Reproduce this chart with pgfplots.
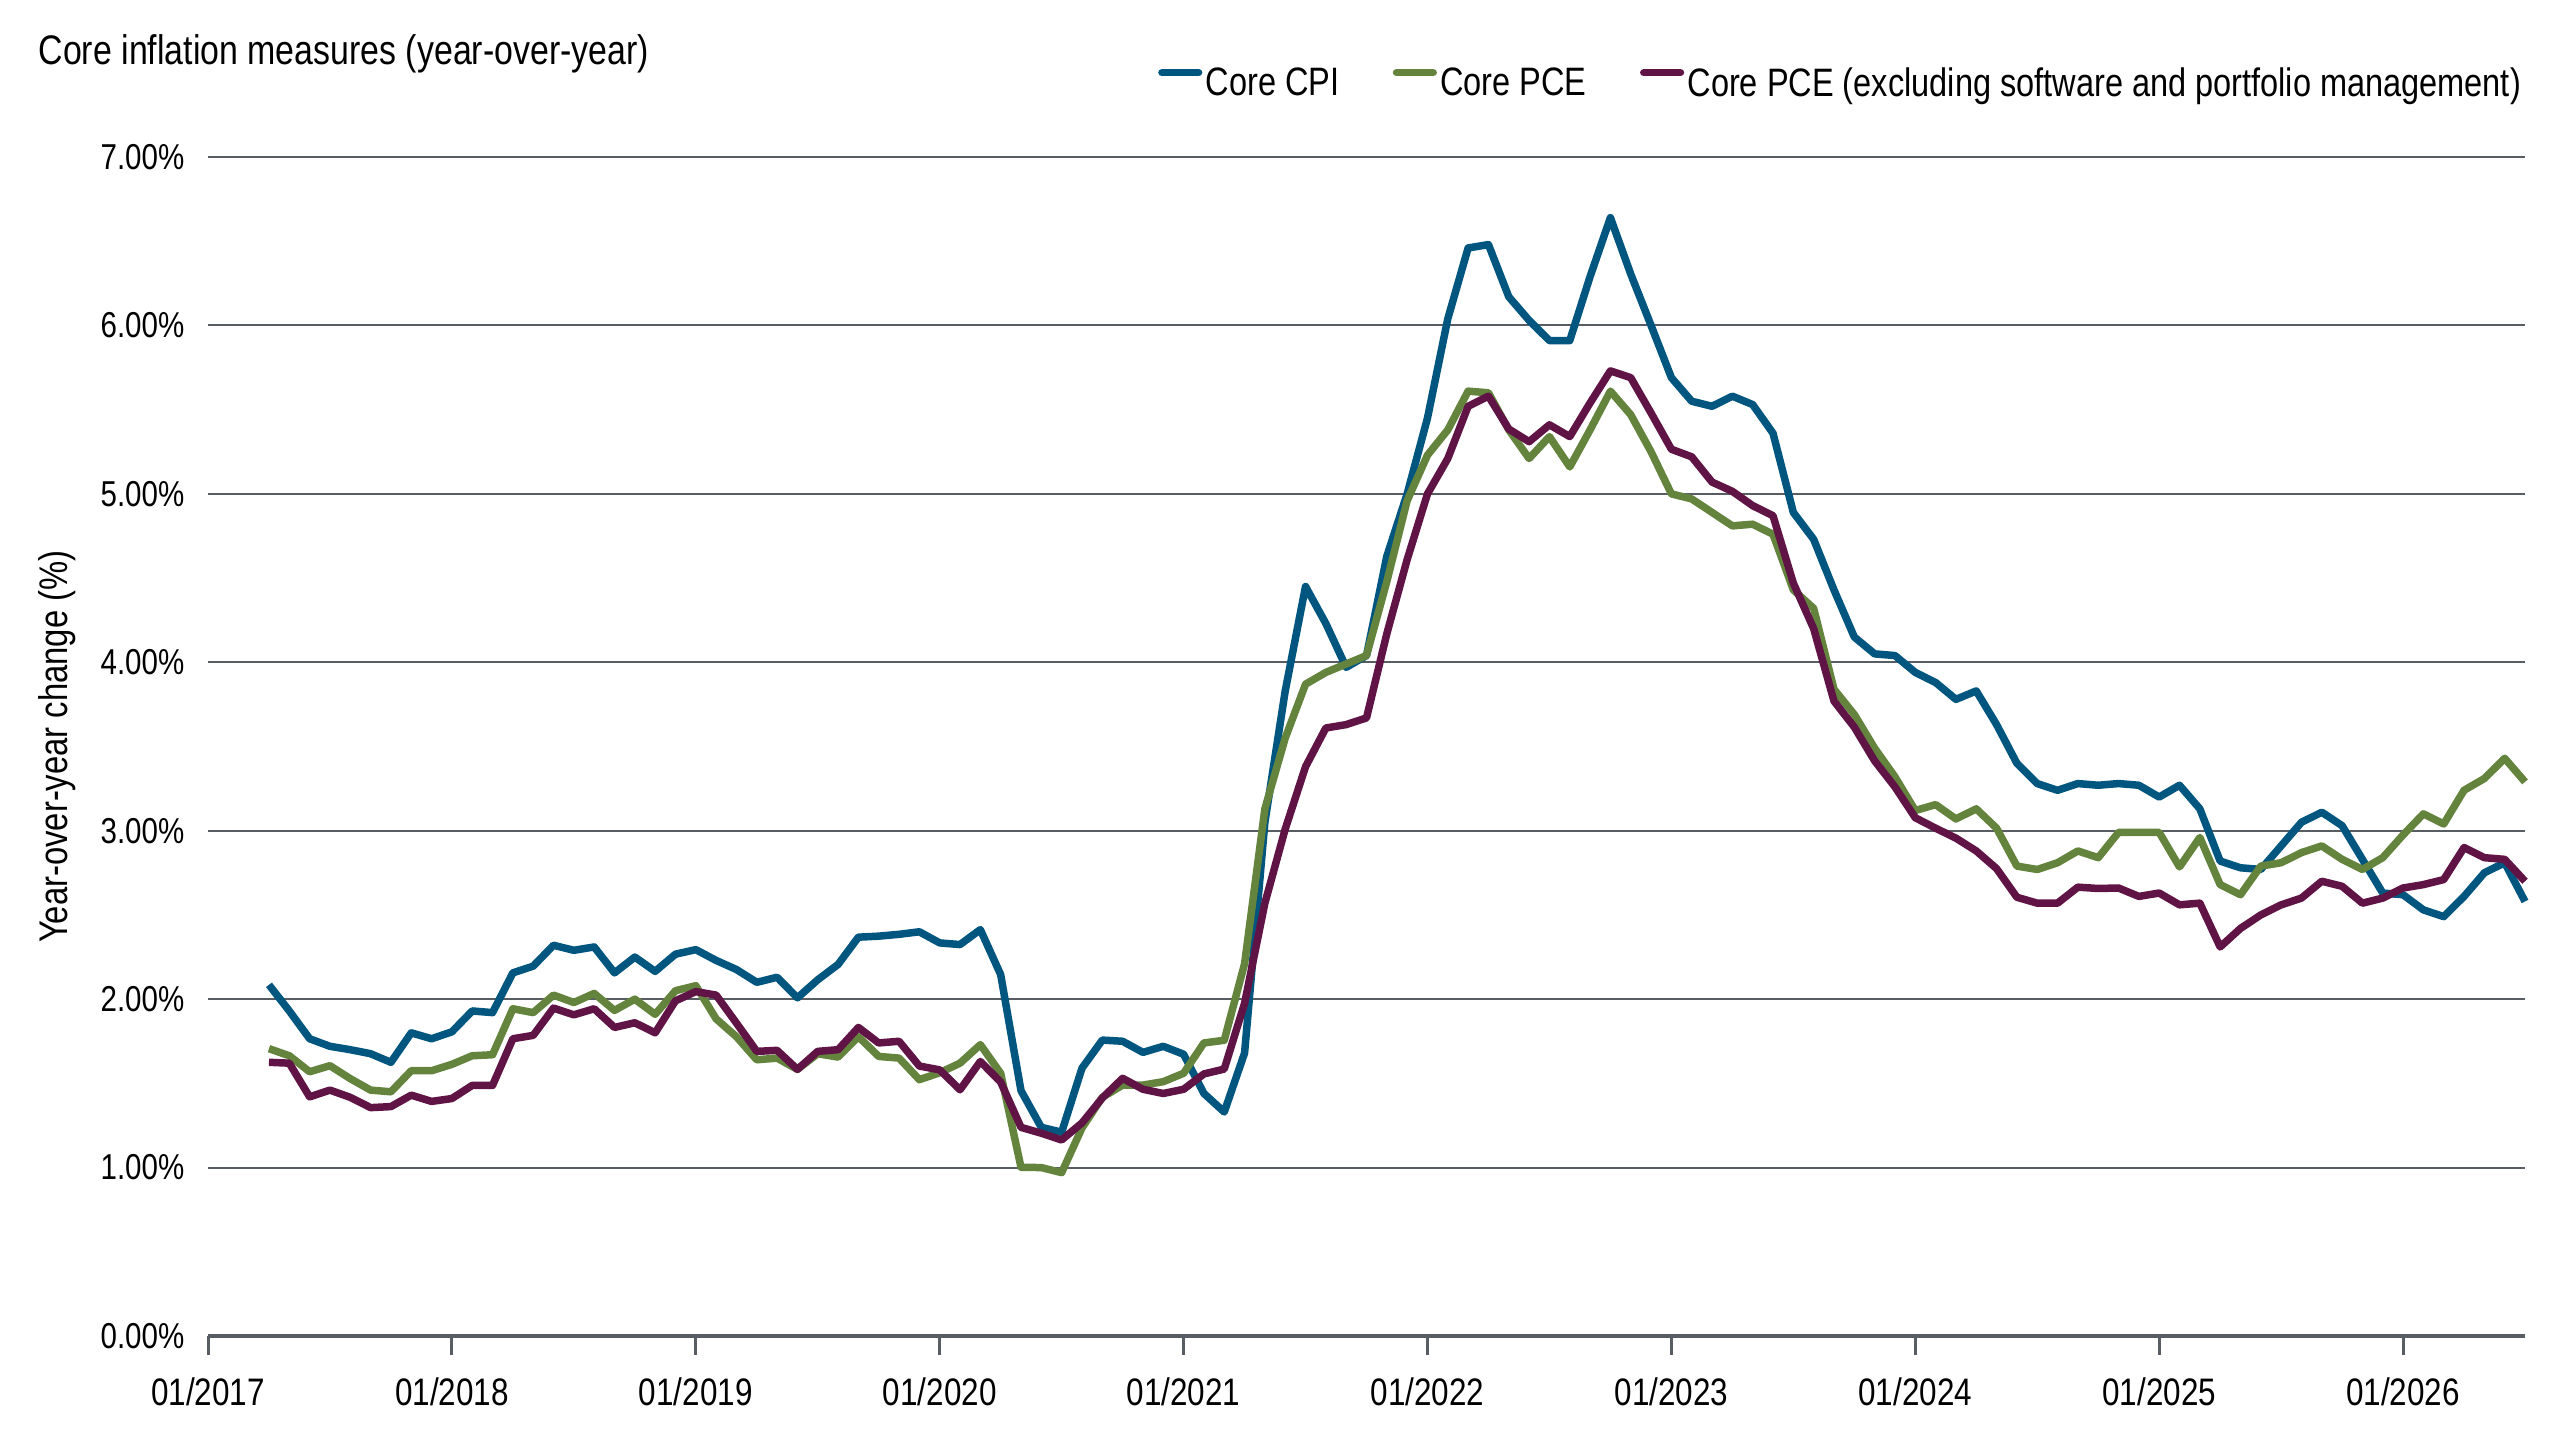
\documentclass[border=0pt]{standalone}
\usepackage{fontspec}
\setmainfont{Liberation Sans}[FakeStretch=0.82]
\usepackage{pgfplots}
\pgfplotsset{compat=1.18}
\definecolor{cpi}{HTML}{00567F}
\definecolor{pce}{HTML}{64843E}
\definecolor{pcex}{HTML}{601445}
\definecolor{gridc}{HTML}{585D64}
\begin{document}
\begin{tikzpicture}
\useasboundingbox (0,0) rectangle (768pt,432pt);
\node[anchor=base west, inner sep=0pt, font=\fontsize{12.4}{14}\selectfont] at (11.4pt,412.5pt) {Core inflation measures (year-over-year)};
\node[rotate=90, inner sep=0pt, font=\fontsize{12}{14}\selectfont] at (17pt,208pt) {Year-over-year change (\%)};
\begin{axis}[
  at={(62.4pt,31.2pt)}, anchor=south west, scale only axis,
  width=695.1pt, height=353.7pt,
  xmin=0, xmax=114, ymin=0, ymax=7,
  axis x line*=bottom, axis y line*=left,
  y axis line style={draw=none},
  x axis line style={draw=gridc, line width=1.1pt, -},
  xtick={0,12,...,108},
  xticklabels={01/2017,01/2018,01/2019,01/2020,01/2021,01/2022,01/2023,01/2024,01/2025,01/2026},
  xtick align=outside,
  major tick length=5.7pt,
  xtick style={draw=gridc, line width=0.9pt},
  ytick={0,1,2,3,4,5,6,7},
  yticklabels={0.00\%,1.00\%,2.00\%,3.00\%,4.00\%,5.00\%,6.00\%,7.00\%},
  ytick style={draw=none},
  ymajorgrids,
  grid style={draw=gridc, line width=0.6pt},
  /pgf/number format/assume math mode=true,
  yticklabel style={anchor=east, inner xsep=0pt, xshift=-6.9pt, font=\fontsize{10.8}{13}\selectfont},
  xticklabel style={anchor=base, inner ysep=0pt, yshift=-15pt, font=\fontsize{11.5}{13}\selectfont},
  legend style={at={(1,1.0616)}, anchor=east, draw=none, fill=none, legend columns=3,
    inner sep=0pt, font=\fontsize{11.9}{14}\selectfont, nodes={inner xsep=1pt, inner ysep=0pt},
    /tikz/every even column/.append style={column sep=15pt}},
  legend cell align=left,
  legend image code/.code={\draw[#1, line cap=round] (0pt,3.5pt) -- (11pt,3.5pt);},
  every axis plot/.append style={line width=2.25pt, line join=round, no markers},
  clip=false,
]
\addplot[cpi] coordinates {(3,2.085)(4,1.93)(5,1.765)(6,1.72)(7,1.70)(8,1.676)(9,1.625)(10,1.80)(11,1.765)(12,1.806)(13,1.93)(14,1.92)(15,2.156)(16,2.196)(17,2.32)(18,2.29)(19,2.31)(20,2.156)(21,2.25)(22,2.165)(23,2.267)(24,2.294)(25,2.23)(26,2.176)(27,2.10)(28,2.13)(29,2.008)(30,2.115)(31,2.206)(32,2.368)(33,2.374)(34,2.385)(35,2.40)(36,2.334)(37,2.324)(38,2.413)(39,2.146)(40,1.457)(41,1.239)(42,1.21)(43,1.59)(44,1.757)(45,1.75)(46,1.684)(47,1.72)(48,1.673)(49,1.44)(50,1.33)(51,1.68)(52,3.05)(53,3.83)(54,4.45)(55,4.23)(56,3.97)(57,4.04)(58,4.63)(59,5.0)(60,5.45)(61,6.04)(62,6.46)(63,6.48)(64,6.17)(65,6.03)(66,5.91)(67,5.91)(68,6.29)(69,6.64)(70,6.305)(71,6.0)(72,5.69)(73,5.55)(74,5.52)(75,5.58)(76,5.53)(77,5.36)(78,4.89)(79,4.73)(80,4.43)(81,4.15)(82,4.05)(83,4.04)(84,3.94)(85,3.88)(86,3.78)(87,3.83)(88,3.63)(89,3.40)(90,3.28)(91,3.24)(92,3.28)(93,3.27)(94,3.28)(95,3.27)(96,3.20)(97,3.27)(98,3.13)(99,2.82)(100,2.78)(101,2.77)(102,2.91)(103,3.05)(104,3.11)(105,3.03)(106,2.83)(107,2.63)(108,2.62)(109,2.53)(110,2.49)(111,2.61)(112,2.75)(113,2.81)(114,2.58)};
\addlegendentry{Core CPI}
\addplot[pce] coordinates {(3,1.706)(4,1.664)(5,1.569)(6,1.605)(7,1.528)(8,1.46)(9,1.45)(10,1.575)(11,1.575)(12,1.613)(13,1.664)(14,1.67)(15,1.943)(16,1.92)(17,2.024)(18,1.98)(19,2.034)(20,1.933)(21,2.0)(22,1.91)(23,2.05)(24,2.08)(25,1.883)(26,1.777)(27,1.64)(28,1.65)(29,1.583)(30,1.676)(31,1.656)(32,1.777)(33,1.66)(34,1.65)(35,1.522)(36,1.563)(37,1.62)(38,1.73)(39,1.56)(40,1.002)(41,1.0)(42,0.97)(43,1.235)(44,1.417)(45,1.49)(46,1.49)(47,1.51)(48,1.56)(49,1.74)(50,1.756)(51,2.21)(52,3.13)(53,3.55)(54,3.87)(55,3.94)(56,3.99)(57,4.04)(58,4.48)(59,4.96)(60,5.23)(61,5.38)(62,5.61)(63,5.60)(64,5.38)(65,5.21)(66,5.34)(67,5.16)(68,5.38)(69,5.61)(70,5.47)(71,5.25)(72,5.0)(73,4.97)(74,4.89)(75,4.81)(76,4.82)(77,4.76)(78,4.43)(79,4.32)(80,3.84)(81,3.69)(82,3.49)(83,3.32)(84,3.12)(85,3.155)(86,3.07)(87,3.13)(88,3.015)(89,2.79)(90,2.77)(91,2.81)(92,2.88)(93,2.84)(94,2.99)(95,2.99)(96,2.99)(97,2.785)(98,2.96)(99,2.68)(100,2.62)(101,2.79)(102,2.81)(103,2.87)(104,2.91)(105,2.83)(106,2.77)(107,2.84)(108,2.975)(109,3.10)(110,3.04)(111,3.24)(112,3.31)(113,3.43)(114,3.29)};
\addlegendentry{Core PCE}
\addplot[pcex] coordinates {(3,1.625)(4,1.62)(5,1.42)(6,1.46)(7,1.417)(8,1.356)(9,1.362)(10,1.43)(11,1.393)(12,1.41)(13,1.488)(14,1.488)(15,1.765)(16,1.785)(17,1.947)(18,1.907)(19,1.943)(20,1.832)(21,1.86)(22,1.80)(23,1.99)(24,2.045)(25,2.024)(26,1.858)(27,1.69)(28,1.696)(29,1.583)(30,1.69)(31,1.70)(32,1.832)(33,1.74)(34,1.75)(35,1.603)(36,1.58)(37,1.462)(38,1.63)(39,1.508)(40,1.239)(41,1.204)(42,1.164)(43,1.265)(44,1.413)(45,1.53)(46,1.465)(47,1.44)(48,1.465)(49,1.556)(50,1.585)(51,1.975)(52,2.57)(53,3.01)(54,3.38)(55,3.61)(56,3.63)(57,3.67)(58,4.17)(59,4.61)(60,5.0)(61,5.21)(62,5.52)(63,5.58)(64,5.385)(65,5.31)(66,5.41)(67,5.34)(68,5.54)(69,5.73)(70,5.69)(71,5.48)(72,5.265)(73,5.22)(74,5.07)(75,5.015)(76,4.93)(77,4.87)(78,4.47)(79,4.20)(80,3.77)(81,3.615)(82,3.415)(83,3.26)(84,3.077)(85,3.015)(86,2.956)(87,2.88)(88,2.775)(89,2.605)(90,2.57)(91,2.57)(92,2.665)(93,2.657)(94,2.66)(95,2.61)(96,2.63)(97,2.56)(98,2.57)(99,2.31)(100,2.42)(101,2.50)(102,2.56)(103,2.60)(104,2.70)(105,2.67)(106,2.57)(107,2.60)(108,2.66)(109,2.68)(110,2.71)(111,2.90)(112,2.84)(113,2.83)(114,2.70)};
\addlegendentry{Core PCE (excluding software and portfolio management)}
\end{axis}
\end{tikzpicture}
\end{document}
